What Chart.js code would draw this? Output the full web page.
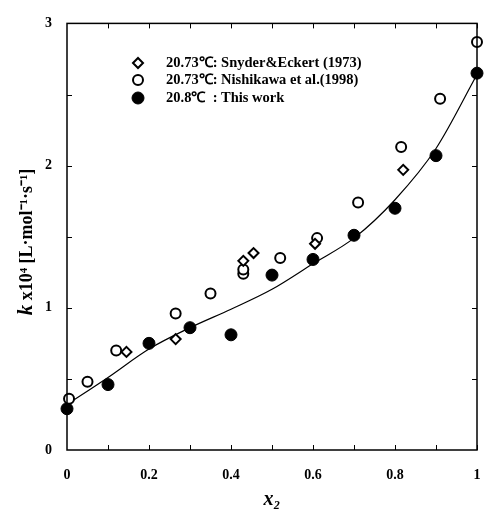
<!DOCTYPE html>
<html>
<head>
<meta charset="utf-8">
<script src="https://cdn.jsdelivr.net/npm/chart.js@4.4.0/dist/chart.umd.min.js"></script>
<style>
  html, body { margin: 0; padding: 0; background: #fff; overflow: hidden; }
  canvas { display: block; }
</style>
</head>
<body>
<canvas id="rateChart" width="484" height="509"></canvas>
<script>
// Data
const snyderX = [0.145, 0.265, 0.43, 0.455, 0.605, 0.82];
const snyderY = [0.69, 0.78, 1.33, 1.385, 1.45, 1.97];

const nishikawaX = [0.005, 0.05, 0.12, 0.265, 0.35, 0.43, 0.43, 0.52, 0.61, 0.71, 0.815, 0.91, 1.0];
const nishikawaY = [0.36, 0.48, 0.70, 0.96, 1.10, 1.24, 1.27, 1.35, 1.49, 1.74, 2.13, 2.47, 2.87];

const workX = [0, 0.1, 0.2, 0.3, 0.4, 0.5, 0.6, 0.7, 0.8, 0.9, 1.0];
const workY = [0.29, 0.46, 0.75, 0.86, 0.81, 1.23, 1.34, 1.51, 1.70, 2.07, 2.65];

const curveX = [0, 0.1, 0.2, 0.3, 0.4, 0.5, 0.6, 0.7, 0.8, 0.9, 1.0];
const curveY = [0.32, 0.51, 0.71, 0.86, 0.99, 1.13, 1.31, 1.49, 1.76, 2.12, 2.64];

const legendLabels = [
    '20.73\u2103: Snyder&Eckert (1973)',
    '20.73\u2103: Nishikawa et al.(1998)',
    '20.8\u2103  : This work'
];

const SERIF = '"Liberation Serif", "Times New Roman", serif';

function pairs(xs, ys) {
    return xs.map((x, i) => ({ x: x, y: ys[i] }));
}

// frame, inner ticks, legend and y title
const decorPlugin = {
    id: 'decor',
    afterDraw(chart) {
        const ctx = chart.ctx;
        const area = chart.chartArea;
        const xs = chart.scales.x;
        const ys = chart.scales.y;
        ctx.save();
        ctx.strokeStyle = '#000';
        ctx.lineWidth = 1.5;
        ctx.strokeRect(area.left, area.top, area.right - area.left, area.bottom - area.top);

        ctx.lineWidth = 1;
        ctx.beginPath();
        for (let v = 0.1; v < 1; v += 0.1) {
            const px = Math.round(xs.getPixelForValue(v)) + 0.5;
            ctx.moveTo(px, area.bottom);
            ctx.lineTo(px, area.bottom - 5);
            ctx.moveTo(px, area.top);
            ctx.lineTo(px, area.top + 5);
        }
        for (let v = 0.5; v < 3; v += 0.5) {
            const py = Math.round(ys.getPixelForValue(v)) + 0.5;
            ctx.moveTo(area.left, py);
            ctx.lineTo(area.left + 5, py);
            ctx.moveTo(area.right, py);
            ctx.lineTo(area.right - 5, py);
        }
        ctx.stroke();

        // legend
        const rowY = [63, 80, 98];
        chart.data.datasets.slice(0, 3).forEach((ds, i) => {
            ctx.strokeStyle = '#000';
            ctx.fillStyle = ds.backgroundColor;
            ctx.lineWidth = ds.borderWidth;
            Chart.helpers.drawPoint(ctx, {
                pointStyle: ds.pointStyle,
                radius: ds.pointRadius,
                borderWidth: ds.borderWidth,
                rotation: 0
            }, 138, rowY[i]);
            ctx.fillStyle = '#000';
            ctx.font = 'bold 14.5px ' + SERIF;
            ctx.textBaseline = 'middle';
            ctx.textAlign = 'left';
            ctx.fillText(legendLabels[i], 166, rowY[i]);
        });

        // y title
        ctx.translate(27, 242);
        ctx.rotate(-Math.PI / 2);
        ctx.textBaseline = 'middle';
        ctx.textAlign = 'left';
        const partK = 'k';
        const partRest = ' x10\u2074 [L\u00b7mol\u207b\u00b9\u00b7s\u207b\u00b9]';
        ctx.font = 'italic bold 21px ' + SERIF;
        const wK = ctx.measureText(partK).width;
        ctx.font = 'bold 18px ' + SERIF;
        const wRest = ctx.measureText(partRest).width;
        let start = -(wK + wRest) / 2;
        ctx.font = 'italic bold 21px ' + SERIF;
        ctx.fillText(partK, start, 0);
        ctx.font = 'bold 18px ' + SERIF;
        ctx.fillText(partRest, start + wK, 0);
        ctx.restore();
    }
};

const ctx = document.getElementById('rateChart').getContext('2d');

new Chart(ctx, {
    type: 'scatter',
    data: {
        datasets: [
            {
                label: legendLabels[0],
                data: pairs(snyderX, snyderY),
                pointStyle: 'rectRot',
                pointRadius: 5,
                borderWidth: 2,
                borderColor: '#000',
                backgroundColor: '#fff',
                clip: false
            },
            {
                label: legendLabels[1],
                data: pairs(nishikawaX, nishikawaY),
                pointStyle: 'circle',
                pointRadius: 5,
                borderWidth: 2,
                borderColor: '#000',
                backgroundColor: '#fff',
                clip: false
            },
            {
                label: legendLabels[2],
                data: pairs(workX, workY),
                pointStyle: 'circle',
                pointRadius: 6,
                borderWidth: 1,
                borderColor: '#000',
                backgroundColor: '#000',
                clip: false
            },
            {
                type: 'line',
                label: 'fit',
                data: pairs(curveX, curveY),
                borderColor: '#000',
                borderWidth: 1.2,
                pointRadius: 0,
                tension: 0.4,
                cubicInterpolationMode: 'monotone',
                fill: false
            }
        ]
    },
    options: {
        responsive: false,
        animation: false,
        layout: {
            padding: { top: 20, right: 0, left: 0, bottom: 0 }
        },
        plugins: {
            legend: { display: false },
            tooltip: { enabled: false }
        },
        scales: {
            x: {
                type: 'linear',
                min: 0,
                max: 1,
                ticks: {
                    stepSize: 0.2,
                    padding: 17,
                    color: '#000',
                    font: { family: SERIF, size: 14, weight: 'bold' },
                    callback: (v) => String(Number(v.toFixed(1)))
                },
                grid: { display: false, drawTicks: false },
                border: { display: false },
                title: {
                    display: true,
                    text: 'x\u2082',
                    color: '#000',
                    padding: { top: 0, bottom: -3 },
                    font: { family: SERIF, size: 20, weight: 'bold', style: 'italic' }
                },
                afterFit(scale) {
                    scale.height = 59;
                    scale.paddingRight = 0;
                }
            },
            y: {
                min: 0,
                max: 3,
                ticks: {
                    stepSize: 1,
                    padding: 15,
                    color: '#000',
                    font: { family: SERIF, size: 14, weight: 'bold' }
                },
                grid: { display: false, drawTicks: false },
                border: { display: false },
                afterFit(scale) { scale.width = 67; }
            }
        }
    },
    plugins: [decorPlugin]
});
</script>
</body>
</html>
